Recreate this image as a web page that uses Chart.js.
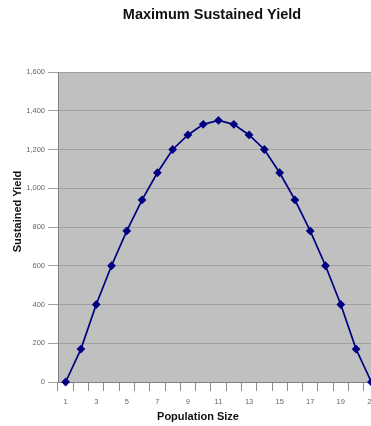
<!DOCTYPE html>
<html>
<head>
<meta charset="utf-8">
<script src="https://cdn.jsdelivr.net/npm/chart.js@4.4.1/dist/chart.umd.min.js"></script>
<style>
  html, body { margin: 0; padding: 0; overflow: hidden; background: #ffffff; }
  canvas { display: block; }
</style>
</head>
<body>
<canvas id="chart" width="422" height="426"></canvas>
<script>
// Population size categories (x axis)
const populationSize = ['1','2','3','4','5','6','7','8','9','10','11','12','13','14','15','16','17','18','19','20','21'];
// Sustained yield for each population size
const sustainedYield = [0, 170, 400, 600, 780, 940, 1080, 1200, 1275, 1330, 1350, 1330, 1275, 1200, 1080, 940, 780, 600, 400, 170, 0];
// Value axis tick marks
const yTickValues = [0, 200, 400, 600, 800, 1000, 1200, 1400, 1600];

const chartTitle = 'Maximum Sustained Yield';
const xAxisTitle = 'Population Size';
const yAxisTitle = 'Sustained Yield';

const FONT = '"Liberation Sans", Arial, sans-serif';

// Grey plot-area fill behind the series
const plotBackground = {
  id: 'plotBackground',
  beforeDraw(chart) {
    const { ctx, chartArea: a } = chart;
    ctx.save();
    ctx.fillStyle = '#c0c0c0';
    ctx.fillRect(a.left, a.top, a.right - a.left, a.bottom - a.top);
    ctx.restore();
  }
};

// Chart heading and the two axis captions
const captions = {
  id: 'captions',
  afterDraw(chart) {
    const { ctx } = chart;
    ctx.save();
    ctx.fillStyle = '#111111';
    ctx.textAlign = 'center';
    ctx.textBaseline = 'middle';

    ctx.font = 'bold 14.5px ' + FONT;
    ctx.fillText(chartTitle, 212, 15);

    ctx.font = 'bold 11px ' + FONT;
    ctx.fillText(xAxisTitle, 198, 417);

    ctx.translate(17.5, 211.5);
    ctx.rotate(-Math.PI / 2);
    ctx.fillText(yAxisTitle, 0, 0);
    ctx.restore();
  }
};

new Chart(document.getElementById('chart'), {
  type: 'line',
  data: {
    labels: populationSize,
    datasets: [{
      data: sustainedYield,
      borderColor: '#000080',
      backgroundColor: '#000080',
      borderWidth: 1.7,
      pointStyle: 'rectRot',
      pointRadius: 3.2,
      pointBackgroundColor: '#000080',
      pointBorderColor: '#000080',
      tension: 0,
      fill: false,
      clip: false
    }]
  },
  options: {
    responsive: false,
    animation: false,
    layout: { padding: { left: 0, right: 43, top: 72, bottom: 0 } },
    plugins: {
      legend: { display: false },
      tooltip: { enabled: false },
      title: { display: false }
    },
    scales: {
      x: {
        type: 'category',
        offset: true,
        grid: {
          offset: true,
          drawOnChartArea: false,
          drawTicks: true,
          tickLength: 9,
          tickColor: '#8c8c8c',
          tickWidth: 1
        },
        border: { display: true, color: '#808080', width: 1 },
        ticks: {
          autoSkip: false,
          maxRotation: 0,
          color: '#666666',
          padding: 6,
          font: { family: FONT, size: 7.5 },
          callback(value, index) { return index % 2 === 0 ? populationSize[index] : ''; }
        },
        afterFit(scale) { scale.height = 44; }
      },
      y: {
        min: 0,
        max: 1600,
        afterBuildTicks(scale) { scale.ticks = yTickValues.map(v => ({ value: v })); },
        grid: {
          color: '#a0a0a0',
          lineWidth: 1,
          drawTicks: true,
          tickLength: 10,
          tickColor: '#a0a0a0'
        },
        border: { display: true, color: '#808080', width: 1 },
        ticks: {
          color: '#666666',
          padding: 3,
          font: { family: FONT, size: 7.5 },
          callback(value) { return value.toLocaleString('en-US'); }
        },
        title: { display: false },
        afterFit(scale) { scale.width = 58; }
      }
    }
  },
  plugins: [plotBackground, captions]
});
</script>
</body>
</html>
